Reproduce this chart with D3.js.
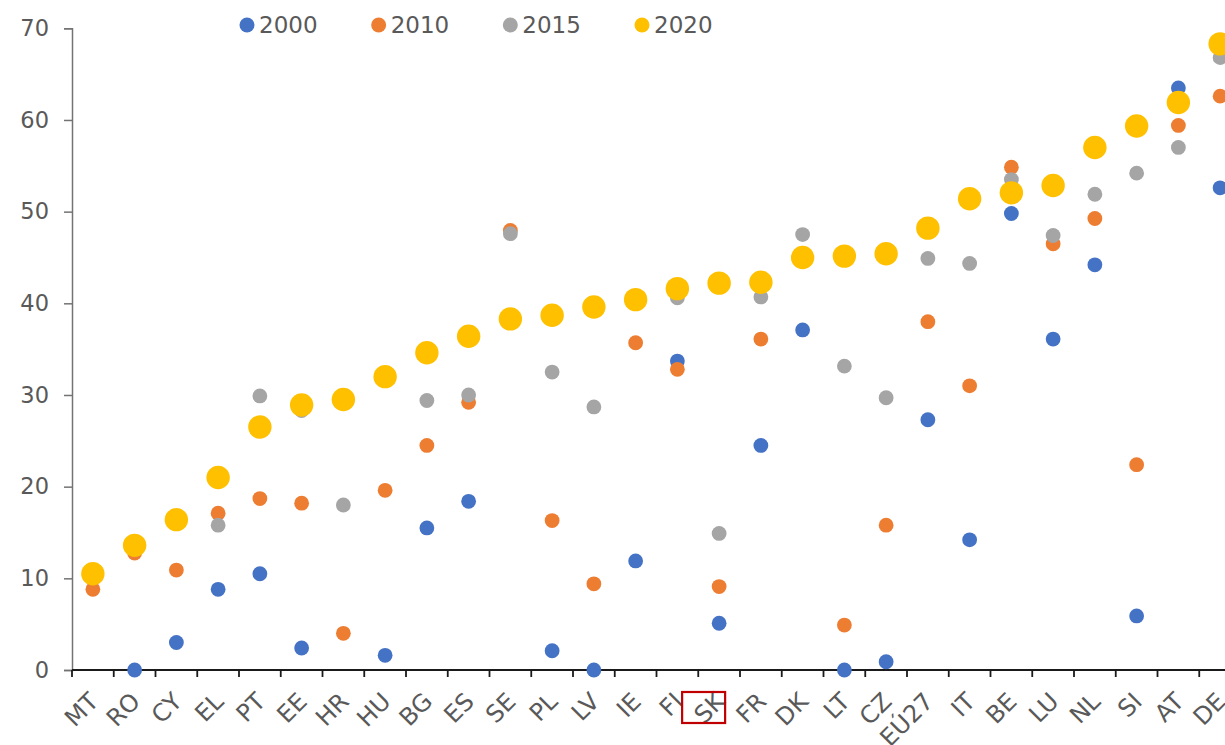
<!DOCTYPE html>
<html><head><meta charset="utf-8">
<script src="https://cdn.jsdelivr.net/npm/d3@7"></script>
<style>
html,body{margin:0;padding:0;background:#fff;overflow:hidden;}
text{font-family:"DejaVu Sans",Verdana,sans-serif;fill:#595959;}
</style></head><body>
<svg id="chart" width="1225" height="745"></svg>
<script>
const categories = ["MT","RO","CY","EL","PT","EE","HR","HU","BG","ES","SE","PL","LV","IE","FI","SK","FR","DK","LT","CZ","EÚ27","IT","BE","LU","NL","SI","AT","DE"];
const years = ["2000","2010","2015","2020"];
const v2000 = [null,0,3.0,8.8,10.5,2.4,null,1.6,15.5,18.4,null,2.1,0,11.9,33.7,5.1,24.5,37.1,0,0.9,27.3,14.2,49.8,36.1,44.2,5.9,63.5,52.6];
const v2010 = [8.8,12.75,10.9,17.1,18.7,18.2,4.0,19.6,24.5,29.2,47.95,16.3,9.4,35.7,32.8,9.1,36.1,null,4.9,15.8,38.0,31.0,54.85,46.5,49.25,22.4,59.4,62.6];
const v2015 = [null,null,null,15.8,29.9,28.3,18.0,null,29.4,30.0,47.6,32.5,28.7,null,40.6,14.9,40.7,47.5,33.15,29.7,44.9,44.35,53.5,47.4,51.9,54.2,57.0,66.8];
const v2020 = [10.5,13.6,16.4,21.0,26.5,28.9,29.5,32.0,34.6,36.4,38.3,38.7,39.6,40.4,41.6,42.2,42.3,45.0,45.15,45.4,48.2,51.4,52.05,52.85,57.0,59.35,61.9,68.3];
const yTicks = [0,10,20,30,40,50,60,70];
const highlighted = "SK";

const seriesValues = [v2000, v2010, v2015, v2020];
const colors = ["#4472C4","#ED7D31","#A5A5A5","#FFC000"];
const radii = [7.4,7.4,7.4,11.7];

const svg = d3.select("#chart");
const x = d3.scaleBand().domain(categories).range([72, 72 + 28*41.75]).padding(0);
const y = d3.scaleLinear().domain([0,70]).range([670, 28.3]);

// Y axis
const yAxis = d3.axisLeft(y).tickValues(yTicks).tickSize(8).tickPadding(15);
const gy = svg.append("g").attr("transform","translate(72,0)").call(yAxis);
gy.select(".domain").attr("stroke","#737373").attr("stroke-width",1.5);
gy.selectAll(".tick line").attr("stroke","#737373").attr("stroke-width",1.5);
gy.selectAll(".tick text").style("font-size","22.5px").attr("fill","#595959").style("font-family","DejaVu Sans");

// X axis
const gx = svg.append("g");
gx.append("line").attr("x1",x.range()[0]).attr("x2",x.range()[1]).attr("y1",y(0)).attr("y2",y(0))
  .attr("stroke","#1a1a1a").attr("stroke-width",1.8);
gx.selectAll("line.tk").data(categories).enter().append("line").attr("class","tk")
  .attr("x1",d=>x(d)).attr("x2",d=>x(d)).attr("y1",y(0)).attr("y2",y(0)+7)
  .attr("stroke","#1a1a1a").attr("stroke-width",1.8);
gx.selectAll("text.cat").data(categories).enter().append("text").attr("class","cat")
  .attr("transform",d=>`translate(${x(d)+x.bandwidth()/2+1},${y(0)+27}) rotate(-45)`)
  .attr("text-anchor","end").attr("dy","0.35em")
  .style("font-size","24px").text(d=>d);

// highlight box
const hx = x(highlighted) + x.bandwidth()/2;
svg.append("rect").attr("x",hx-37).attr("y",y(0)+22).attr("width",43).attr("height",31)
  .attr("fill","none").attr("stroke","#C00000").attr("stroke-width",2.2);

// points
seriesValues.forEach((vals,i)=>{
  svg.append("g").selectAll("circle").data(categories.map((c,j)=>({c,v:vals[j]})).filter(d=>d.v!==null))
    .enter().append("circle")
    .attr("cx",d=>x(d.c)+x.bandwidth()/2).attr("cy",d=>y(d.v)).attr("r",radii[i])
    .attr("fill",colors[i]);
});

// legend
const lx = d3.scaleLinear().domain([0,3]).range([247,642]);
const lg = svg.append("g");
years.forEach((yr,i)=>{
  lg.append("circle").attr("cx",lx(i)).attr("cy",25).attr("r",7.5).attr("fill",colors[i]);
  lg.append("text").attr("x",lx(i)+12).attr("y",25).attr("dy","0.36em").style("font-size","23px").text(yr);
});
</script>
</body></html>
